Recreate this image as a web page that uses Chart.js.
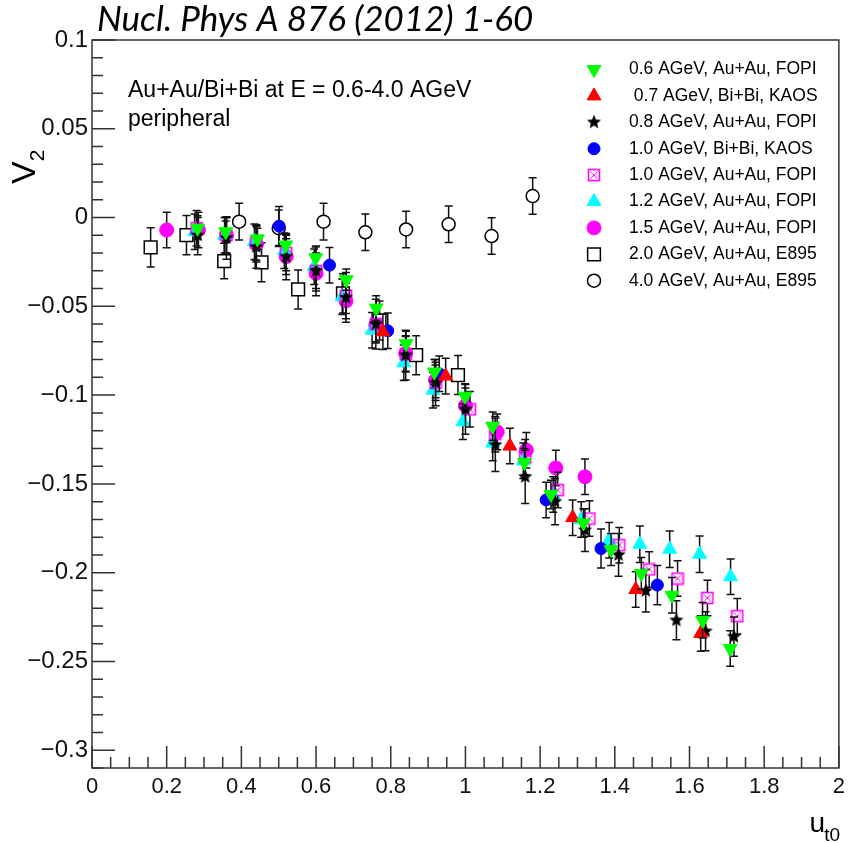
<!DOCTYPE html>
<html>
<head>
<meta charset="utf-8">
<title>v2 vs ut0</title>
<script src="https://cdn.jsdelivr.net/npm/chart.js@4.4.0/dist/chart.umd.min.js"></script>
<style>
  body { margin: 0; background: #fff; }
  #wrap { width: 851px; height: 843px; }
</style>
</head>
<body>
<div id="wrap"><canvas id="v2chart" width="851" height="843"></canvas></div>
<script>
"use strict";

const FONT = "'Liberation Sans', Arial, sans-serif";

// axis ticks and their labels
let X_TICKS = [0, 0.2, 0.4, 0.6, 0.8, 1, 1.2, 1.4, 1.6, 1.8, 2];
let X_TICK_LABELS = ["0", "0.2", "0.4", "0.6", "0.8", "1", "1.2", "1.4", "1.6", "1.8", "2"];
let Y_TICKS = [0.1, 0.05, 0, -0.05, -0.1, -0.15, -0.2, -0.25, -0.3];
let Y_TICK_LABELS = ["0.1", "0.05", "0", "\u22120.05", "\u22120.1", "\u22120.15", "\u22120.2", "\u22120.25", "\u22120.3"];

let SERIES_LABELS = [
    "0.6 AGeV, Au+Au, FOPI",
    " 0.7 AGeV, Bi+Bi, KAOS",
    "0.8 AGeV, Au+Au, FOPI",
    "1.0 AGeV, Bi+Bi, KAOS",
    "1.0 AGeV, Au+Au, FOPI",
    "1.2 AGeV, Au+Au, FOPI",
    "1.5 AGeV, Au+Au, FOPI",
    "2.0 AGeV, Au+Au, E895",
    "4.0 AGeV, Au+Au, E895"
];

// 0.6 AGeV FOPI
let U_06 = [0.283, 0.358, 0.443, 0.519, 0.599, 0.681, 0.761, 0.841, 0.917, 0.999, 1.073, 1.158, 1.229, 1.316, 1.39, 1.471, 1.553, 1.635, 1.709];
let V2_06 = [-0.006, -0.008, -0.012, -0.0155, -0.0226, -0.035, -0.051, -0.071, -0.087, -0.1006, -0.1175, -0.138, -0.156, -0.172, -0.187, -0.2004, -0.2127, -0.2268, -0.2427];
let ERR_06 = [0.006, 0.006, 0.006, 0.006, 0.006, 0.006, 0.007, 0.007, 0.007, 0.007, 0.008, 0.008, 0.008, 0.008, 0.009, 0.009, 0.01, 0.01, 0.01];

// 0.7 AGeV KAOS
let U_07 = [0.779, 0.947, 1.119, 1.287, 1.456, 1.630];
let V2_07 = [-0.0643, -0.0893, -0.1287, -0.169, -0.2095, -0.2342];
let ERR_07 = [0.01, 0.01, 0.01, 0.01, 0.01, 0.01];

// 0.8 AGeV FOPI
let U_08 = [0.283, 0.36, 0.44, 0.52, 0.60, 0.68, 0.76, 0.84, 0.92, 1.0, 1.08, 1.16, 1.24, 1.32, 1.41, 1.483, 1.565, 1.643, 1.719];
let V2_08 = [-0.01, -0.0115, -0.0165, -0.022, -0.03, -0.045, -0.06, -0.0775, -0.093, -0.108, -0.128, -0.146, -0.16, -0.176, -0.19, -0.2102, -0.2268, -0.233, -0.236];
let ERR_08 = [0.011, 0.012, 0.012, 0.013, 0.014, 0.014, 0.014, 0.014, 0.013, 0.014, 0.015, 0.015, 0.013, 0.012, 0.012, 0.012, 0.011, 0.011, 0.011];

// 1.0 AGeV KAOS
let U_10K = [0.501, 0.636, 0.792, 0.93, 1.216, 1.363, 1.514];
let V2_10K = [-0.0048, -0.0268, -0.0638, -0.088, -0.159, -0.1864, -0.207];
let ERR_10K = [0.011, 0.01, 0.01, 0.01, 0.01, 0.011, 0.011];

// 1.0 AGeV FOPI
let U_10F = [0.28, 0.36, 0.44, 0.52, 0.60, 0.68, 0.76, 0.84, 0.92, 1.012, 1.08, 1.16, 1.247, 1.332, 1.412, 1.492, 1.568, 1.648, 1.728];
let V2_10F = [-0.006, -0.01, -0.014, -0.02, -0.03, -0.044, -0.06, -0.077, -0.093, -0.108, -0.122, -0.135, -0.1535, -0.1695, -0.1845, -0.1982, -0.2033, -0.2142, -0.2245];
let ERR_10F = [0.01, 0.01, 0.01, 0.01, 0.01, 0.01, 0.01, 0.01, 0.01, 0.01, 0.01, 0.01, 0.01, 0.01, 0.01, 0.01, 0.01, 0.01, 0.01];

// 1.2 AGeV FOPI
let U_12 = [0.275, 0.355, 0.435, 0.515, 0.595, 0.67, 0.75, 0.835, 0.913, 0.993, 1.073, 1.155, 1.235, 1.31, 1.385, 1.467, 1.547, 1.627, 1.71];
let V2_12 = [-0.008, -0.01, -0.0136, -0.0187, -0.0277, -0.0446, -0.0634, -0.0818, -0.0972, -0.115, -0.127, -0.137, -0.156, -0.17, -0.1817, -0.184, -0.1868, -0.1896, -0.2023];
let ERR_12 = [0.01, 0.01, 0.01, 0.01, 0.01, 0.01, 0.01, 0.01, 0.01, 0.01, 0.01, 0.01, 0.01, 0.01, 0.01, 0.0103, 0.0103, 0.0103, 0.0100];

// 1.5 AGeV FOPI
let U_15 = [0.2, 0.285, 0.36, 0.44, 0.52, 0.6, 0.68, 0.76, 0.84, 0.92, 1.0, 1.085, 1.163, 1.242, 1.32];
let V2_15 = [-0.007, -0.007, -0.01, -0.015, -0.022, -0.0314, -0.047, -0.0606, -0.0765, -0.0915, -0.106, -0.1207, -0.131, -0.141, -0.146];
let ERR_15 = [0.01, 0.01, 0.01, 0.01, 0.01, 0.01, 0.01, 0.01, 0.01, 0.01, 0.01, 0.01, 0.01, 0.01, 0.01];

// 2.0 AGeV E895
let U_20 = [0.157, 0.253, 0.354, 0.454, 0.552, 0.672, 0.77, 0.868, 0.98];
let V2_20 = [-0.0168, -0.0099, -0.0245, -0.0252, -0.0405, -0.0427, -0.058, -0.0775, -0.0887];
let ERR_20 = [0.011, 0.011, 0.01, 0.011, 0.011, 0.011, 0.011, 0.011, 0.011];

// 4.0 AGeV E895
let U_40 = [0.394, 0.50, 0.62, 0.732, 0.841, 0.955, 1.07, 1.18];
let V2_40 = [-0.0023, -0.006, -0.0023, -0.0083, -0.0067, -0.0038, -0.0104, 0.0121];
let ERR_40 = [0.0103, 0.0103, 0.0103, 0.0103, 0.0103, 0.0103, 0.0103, 0.0103];


// little canvases for the markers Chart.js has no shape for

function starMarker() {
    let c = document.createElement("canvas");
    c.width = 16; c.height = 16;
    let g = c.getContext("2d");
    g.fillStyle = "#000";
    g.beginPath();
    for (let i = 0; i < 10; i++) {
        let r = (i % 2) ? 3.3 : 7.5;
        let a = -Math.PI / 2 + i * Math.PI / 5;
        g.lineTo(8 + r * Math.cos(a), 8 + r * Math.sin(a));
    }
    g.closePath();
    g.fill();
    return c;
}

function boxedXMarker() {
    let c = document.createElement("canvas");
    c.width = 14; c.height = 14;
    let g = c.getContext("2d");
    g.strokeStyle = "#ff00ff";
    g.lineWidth = 1.6;
    g.strokeRect(1.5, 1.5, 11, 11);
    g.lineWidth = 1;
    g.beginPath();
    g.moveTo(3.5, 3.5); g.lineTo(10.5, 10.5);
    g.moveTo(10.5, 3.5); g.lineTo(3.5, 10.5);
    g.stroke();
    return c;
}

function makeSet(idx, us, vs, errs, style) {
    let pts = [];
    for (let i = 0; i < us.length; i++) {
        pts.push({ x: us[i], y: vs[i] });
    }
    return {
        label: SERIES_LABELS[idx],
        data: pts,
        errors: errs,
        barGap: style.gap,
        showLine: false,
        pointStyle: style.shape,
        pointRadius: style.radius,
        pointRotation: style.rotation || 0,
        pointBackgroundColor: style.fill,
        pointBorderColor: style.line,
        pointBorderWidth: style.width,
        backgroundColor: style.fill,
        borderColor: style.line
    };
}

let datasets = [
    makeSet(0, U_06, V2_06, ERR_06, { shape: "triangle", radius: 8, rotation: 180, fill: "#00ff00", line: "#00ff00", width: 1, gap: 0 }),
    makeSet(1, U_07, V2_07, ERR_07, { shape: "triangle", radius: 8, fill: "#ff0000", line: "#ff0000", width: 1, gap: 0 }),
    makeSet(2, U_08, V2_08, ERR_08, { shape: starMarker(), radius: 8, fill: "#000", line: "#000", width: 0, gap: 0 }),
    makeSet(3, U_10K, V2_10K, ERR_10K, { shape: "circle", radius: 6, fill: "#0000ff", line: "#0000ff", width: 1, gap: 0 }),
    makeSet(4, U_10F, V2_10F, ERR_10F, { shape: boxedXMarker(), radius: 7, fill: "#ff00ff", line: "#ff00ff", width: 0, gap: 6 }),
    makeSet(5, U_12, V2_12, ERR_12, { shape: "triangle", radius: 8, fill: "#00ffff", line: "#00ffff", width: 1, gap: 0 }),
    makeSet(6, U_15, V2_15, ERR_15, { shape: "circle", radius: 7, fill: "#ff00ff", line: "#ff00ff", width: 1, gap: 0 }),
    makeSet(7, U_20, V2_20, ERR_20, { shape: "rect", radius: 9, fill: "#ffffff", line: "#000000", width: 1.5, gap: 6.5 }),
    makeSet(8, U_40, V2_40, ERR_40, { shape: "circle", radius: 6.5, fill: "#ffffff", line: "#000000", width: 1.5, gap: 6.5 })
];


// vertical error bars with small caps, drawn just before each set's markers
const errorBars = {
    id: "errorBars",
    beforeDatasetDraw(chart, args) {
        let ds = chart.data.datasets[args.index];
        let yScale = chart.scales.y;
        let ctx = chart.ctx;
        ctx.save();
        ctx.strokeStyle = "#111";
        ctx.lineWidth = 1.5;
        args.meta.data.forEach(function(pt, i) {
            let e = ds.errors[i];
            let yTop = yScale.getPixelForValue(ds.data[i].y + e);
            let yBot = yScale.getPixelForValue(ds.data[i].y - e);
            let gap = ds.barGap;
            ctx.beginPath();
            if (pt.y - gap > yTop) {
                ctx.moveTo(pt.x, yTop); ctx.lineTo(pt.x, pt.y - gap);
                ctx.moveTo(pt.x, pt.y + gap); ctx.lineTo(pt.x, yBot);
            }
            ctx.moveTo(pt.x - 4, yTop); ctx.lineTo(pt.x + 4, yTop);
            ctx.moveTo(pt.x - 4, yBot); ctx.lineTo(pt.x + 4, yBot);
            ctx.stroke();
        });
        ctx.restore();
    }
};

// ROOT style frame with ticks pointing into the pad
const frameTicks = {
    id: "frameTicks",
    afterDraw(chart) {
        let ctx = chart.ctx;
        let a = chart.chartArea;
        let xs = chart.scales.x;
        let ys = chart.scales.y;
        ctx.save();
        ctx.strokeStyle = "#333";
        ctx.lineWidth = 1.5;
        ctx.strokeRect(a.left, a.top, a.right - a.left, a.bottom - a.top);
        ctx.beginPath();
        for (let k = 0; k <= 40; k++) {
            let v = k * 0.05;
            let px = xs.getPixelForValue(v);
            let len = (k % 4 === 0) ? 22 : 11;
            ctx.moveTo(px, a.bottom);
            ctx.lineTo(px, a.bottom - len);
        }
        for (let k = -31; k <= 10; k++) {
            let v = k * 0.01;
            let py = ys.getPixelForValue(v);
            let len = (k % 5 === 0) ? 23 : 11;
            ctx.moveTo(a.left, py);
            ctx.lineTo(a.left + len, py);
        }
        ctx.stroke();
        ctx.restore();
    }
};

// titles, text box and legend
const texts = {
    id: "texts",
    afterDraw(chart) {
        let ctx = chart.ctx;
        ctx.save();
        ctx.fillStyle = "#000";

        ctx.font = "italic 35px Lato, 'Open Sans', sans-serif";
        ctx.textAlign = "left";
        ctx.textBaseline = "alphabetic";
        ctx.fillText("Nucl. Phys A 876 (2012) 1-60", 97, 31);

        ctx.font = "23px " + FONT;
        ctx.fillText("Au+Au/Bi+Bi at E = 0.6-4.0 AGeV", 128, 97);
        ctx.fillText("peripheral", 128, 126);

        // legend
        ctx.font = "17.5px " + FONT;
        ctx.textBaseline = "middle";
        chart.data.datasets.forEach(function(ds, i) {
            let y = 69.5 + i * 26.4;
            ctx.fillStyle = ds.backgroundColor;
            ctx.strokeStyle = ds.borderColor;
            ctx.lineWidth = ds.pointBorderWidth;
            Chart.helpers.drawPoint(ctx, {
                pointStyle: ds.pointStyle,
                radius: ds.pointRadius,
                rotation: ds.pointRotation,
                borderWidth: ds.pointBorderWidth
            }, 594, y);
            ctx.fillStyle = "#000";
            ctx.fillText(ds.label, 629, y);
        });

        // x title u_t0
        ctx.textBaseline = "alphabetic";
        ctx.textAlign = "right";
        ctx.font = "19px " + FONT;
        ctx.fillText("t0", 840, 841);
        let subW = ctx.measureText("t0").width;
        ctx.font = "28px " + FONT;
        ctx.fillText("u", 840 - subW + 1, 832);

        // y title V_2
        ctx.translate(35, 184);
        ctx.rotate(-Math.PI / 2);
        ctx.textAlign = "left";
        ctx.font = "34px " + FONT;
        ctx.fillText("V", 0, 0);
        let vW = ctx.measureText("V").width;
        ctx.font = "21px " + FONT;
        ctx.fillText("2", vW, 9);
        ctx.restore();
    }
};

let ctx = document.getElementById("v2chart").getContext("2d");

let v2Chart = new Chart(ctx, {
    type: "scatter",
    data: { datasets: datasets },
    options: {
        responsive: false,
        animation: false,
        layout: { padding: { top: 40, right: 11, left: 0, bottom: 0 } },
        plugins: {
            legend: { display: false },
            tooltip: { enabled: false }
        },
        scales: {
            x: {
                type: "linear",
                min: 0,
                max: 2,
                afterBuildTicks: function(s) { s.ticks = X_TICKS.map(v => ({ value: v })); },
                afterFit: function(s) { s.height = 75; },
                grid: { display: false, drawTicks: false, tickLength: 0 },
                border: { display: false },
                ticks: {
                    autoSkip: false,
                    maxRotation: 0,
                    padding: 6,
                    color: "#111",
                    font: { family: FONT, size: 22 },
                    callback: function(v, i) { return X_TICK_LABELS[i]; }
                }
            },
            y: {
                type: "linear",
                min: -0.31,
                max: 0.1,
                afterBuildTicks: function(s) { s.ticks = Y_TICKS.map(v => ({ value: v })); },
                afterFit: function(s) { s.width = 92; },
                grid: { display: false, drawTicks: false, tickLength: 0 },
                border: { display: false },
                ticks: {
                    autoSkip: false,
                    padding: 4,
                    color: "#111",
                    font: { family: FONT, size: 24 },
                    callback: function(v, i) { return Y_TICK_LABELS[i]; }
                }
            }
        }
    },
    plugins: [errorBars, frameTicks, texts]
});
</script>
</body>
</html>
